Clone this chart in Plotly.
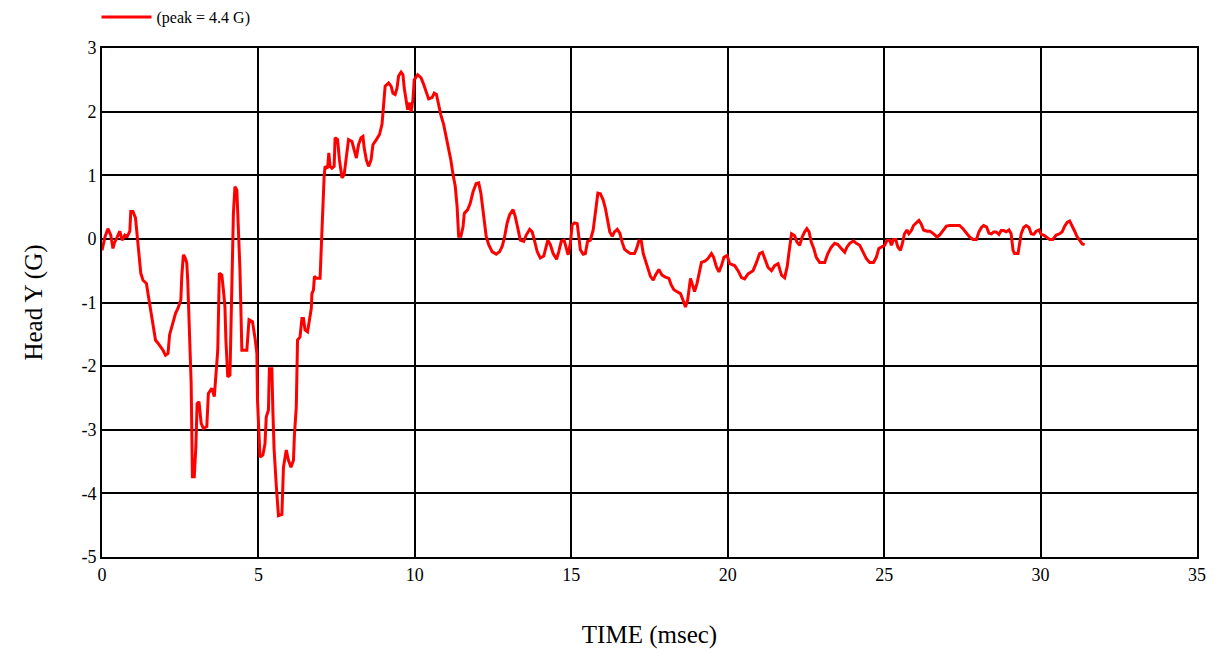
import plotly.graph_objects as go

# Time (msec) and Head Y acceleration (G)
time_ms = [
    0.00, 0.10, 0.19, 0.28, 0.35, 0.40, 0.46, 0.57, 0.64, 0.73, 0.81, 0.89, 0.92, 0.99, 1.07, 1.13, 1.17,
    1.24, 1.31, 1.42, 1.47, 1.53, 1.63, 1.71, 1.79, 1.95, 2.03, 2.11, 2.16, 2.27, 2.35, 2.43, 2.52,
    2.55, 2.60, 2.66, 2.71, 2.74, 2.78, 2.85, 2.89, 2.95, 3.00, 3.04, 3.10, 3.17, 3.24, 3.35, 3.40,
    3.51, 3.59, 3.64, 3.70, 3.75, 3.83, 3.88, 3.93, 3.96, 4.02, 4.09, 4.15, 4.20, 4.25, 4.31, 4.36,
    4.41, 4.47, 4.63, 4.70, 4.81, 4.90, 4.95,
    4.97, 5.05, 5.14, 5.21, 5.25, 5.32, 5.35, 5.43, 5.46, 5.50, 5.57, 5.64, 5.75, 5.80, 5.89, 5.96,
    6.04, 6.12, 6.15, 6.21, 6.25, 6.33, 6.39, 6.44, 6.49, 6.57, 6.63, 6.69, 6.71, 6.76, 6.79, 6.85,
    6.97, 7.01, 7.03, 7.10, 7.13, 7.21, 7.25, 7.29, 7.35, 7.42,
    7.45, 7.53, 7.59, 7.67, 7.74, 7.81, 7.88, 7.99, 8.06, 8.13, 8.20, 8.28, 8.34, 8.38, 8.45, 8.52,
    8.60, 8.66, 8.77, 8.87, 8.95, 9.00, 9.05, 9.16, 9.24, 9.30, 9.37, 9.43, 9.48, 9.56, 9.62, 9.66,
    9.73, 9.77, 9.83, 9.88, 9.94, 9.98, 10.09, 10.20, 10.28, 10.39, 10.44, 10.55, 10.62, 10.69, 10.76,
    10.83, 10.92, 11.00, 11.08, 11.15, 11.22, 11.29, 11.35, 11.40, 11.47, 11.54, 11.58, 11.69,
    11.77, 11.86, 11.96, 12.04, 12.11, 12.20, 12.28, 12.36, 12.47, 12.60, 12.71, 12.79, 12.86, 12.95,
    13.03, 13.14, 13.21, 13.29, 13.37, 13.48, 13.56, 13.67, 13.75, 13.82, 13.91, 14.01, 14.12, 14.25,
    14.33, 14.42, 14.53, 14.60, 14.68, 14.77, 14.83, 14.90, 14.97, 15.03, 15.10, 15.19, 15.24, 15.29,
    15.38, 15.45, 15.52, 15.61, 15.70, 15.77, 15.85, 15.93, 16.02, 16.09, 16.17, 16.23, 16.31, 16.38,
    16.47, 16.55, 16.63, 16.70, 16.79, 16.89, 17.02, 17.09, 17.16, 17.24, 17.30, 17.37, 17.45, 17.53,
    17.62, 17.69, 17.80, 17.90, 18.01, 18.12, 18.19, 18.28, 18.38, 18.49, 18.57, 18.65, 18.72, 18.81,
    18.86, 18.94, 19.02, 19.11,
    19.16, 19.27, 19.37, 19.48, 19.55, 19.64, 19.72, 19.80, 19.88, 19.98, 20.06, 20.22, 20.33, 20.44,
    20.54, 20.65, 20.81, 20.92, 21.02, 21.11, 21.18, 21.29, 21.40, 21.50, 21.61, 21.72, 21.82, 21.90,
    21.96, 22.04, 22.14, 22.21, 22.30, 22.38, 22.46, 22.53, 22.60, 22.67, 22.75, 22.83, 22.94, 23.10,
    23.20, 23.31, 23.42, 23.52, 23.63, 23.74, 23.81, 23.90, 24.02, 24.11, 24.22, 24.32, 24.43, 24.54,
    24.66, 24.75, 24.83, 24.91, 25.02, 25.09, 25.18, 25.23, 25.30, 25.37, 25.44, 25.52, 25.58, 25.65,
    25.73, 25.79, 25.87, 25.94, 26.03, 26.11, 26.18, 26.26, 26.37, 26.47, 26.58, 26.69, 26.77, 26.88,
    26.99, 27.09, 27.25, 27.41, 27.52, 27.63, 27.73, 27.84, 27.95, 28.03, 28.11, 28.18, 28.27, 28.35,
    28.43, 28.50, 28.58, 28.67, 28.74, 28.82, 28.90, 28.99, 29.06, 29.12, 29.17, 29.28, 29.33, 29.38,
    29.46, 29.54, 29.63, 29.70, 29.78, 29.86, 29.95, 30.02, 30.10, 30.18, 30.29, 30.39, 30.50, 30.61,
    30.69, 30.77, 30.85, 30.93, 31.01, 31.09, 31.16, 31.25, 31.33, 31.41,
]

head_y_g = [
    -0.18, 0.04, 0.16, 0.06, -0.15, -0.06, 0.00, 0.12, -0.02, 0.06, 0.04, 0.12, 0.43, 0.43, 0.33, -0.02, -0.20,
    -0.54, -0.65, -0.70, -0.86, -1.04, -1.38, -1.59, -1.64, -1.75, -1.83, -1.80, -1.51, -1.33, -1.17, -1.09, -0.96,
    -0.59, -0.25, -0.30, -0.38, -0.65, -1.33, -2.27, -3.74, -3.74, -3.27, -2.59, -2.56, -2.90, -2.98, -2.95, -2.43,
    -2.35, -2.48, -2.14, -1.75, -0.54, -0.57, -0.80, -1.07, -1.59, -2.17, -2.14, -0.49, 0.40, 0.82, 0.77, 0.14,
    -0.49, -1.75, -1.75, -1.27, -1.30, -1.59, -1.80,
    -2.53, -3.43, -3.40, -3.22, -2.80, -2.69, -2.04, -2.04, -2.67, -3.30, -3.87, -4.35, -4.33, -3.59, -3.32, -3.48,
    -3.59, -3.48, -3.09, -2.64, -1.59, -1.54, -1.25, -1.25, -1.43, -1.46, -1.28, -1.09, -0.86, -0.80, -0.59, -0.62,
    -0.62, -0.12, 0.40, 0.98, 1.14, 1.11, 1.35, 1.14, 1.11, 1.14,
    1.59, 1.56, 1.24, 0.96, 1.01, 1.32, 1.56, 1.53, 1.40, 1.27, 1.48, 1.59, 1.61, 1.43, 1.24, 1.14,
    1.24, 1.48, 1.56, 1.64, 1.80, 2.06, 2.40, 2.45, 2.40, 2.29, 2.27, 2.37, 2.56, 2.62, 2.58, 2.37,
    2.19, 2.03, 2.14, 2.00, 2.19, 2.50, 2.58, 2.53, 2.43, 2.27, 2.20, 2.22, 2.29, 2.27, 2.08,
    1.95, 1.80, 1.61, 1.40, 1.24, 1.01, 0.83, 0.51, 0.04, 0.04, 0.19, 0.40, 0.46,
    0.56, 0.74, 0.87, 0.88, 0.72, 0.40, 0.04, -0.09, -0.20, -0.24, -0.20, -0.12, 0.01, 0.25,
    0.38, 0.46, 0.35, 0.17, -0.02, -0.04, 0.06, 0.15, 0.11, -0.02, -0.20, -0.30, -0.27, -0.02,
    -0.09, -0.23, -0.32, -0.20, -0.04, -0.02, -0.12, -0.25, -0.07, 0.22, 0.25, 0.24, 0.04, -0.17,
    -0.24, -0.23, -0.04, -0.02, 0.14, 0.40, 0.72, 0.71, 0.61, 0.48, 0.30, 0.11, 0.04, 0.11,
    0.15, 0.09, -0.06, -0.16, -0.20, -0.23, -0.23, -0.15, -0.03, -0.04, -0.23, -0.33, -0.44, -0.59,
    -0.65, -0.57, -0.48, -0.57, -0.60, -0.62, -0.72, -0.80, -0.83, -0.86, -0.96, -1.07, -0.96, -0.62,
    -0.70, -0.83, -0.70, -0.49,
    -0.37, -0.35, -0.31, -0.23, -0.29, -0.44, -0.52, -0.42, -0.29, -0.26, -0.39, -0.42, -0.50, -0.61,
    -0.63, -0.55, -0.50, -0.37, -0.23, -0.21, -0.31, -0.45, -0.50, -0.42, -0.39, -0.57, -0.61, -0.44,
    -0.21, 0.08, 0.05, -0.05, -0.10, 0.03, 0.11, 0.16, 0.11, -0.05, -0.15, -0.29, -0.37, -0.37,
    -0.23, -0.13, -0.07, -0.09, -0.15, -0.21, -0.13, -0.07, -0.03, -0.07, -0.10, -0.21, -0.31, -0.37,
    -0.37, -0.29, -0.15, -0.13, -0.10, -0.02, -0.02, -0.10, -0.01, -0.01, -0.13, -0.18, -0.08, 0.08,
    0.14, 0.08, 0.13, 0.21, 0.26, 0.29, 0.24, 0.14, 0.12, 0.12, 0.08, 0.03, 0.06, 0.14,
    0.20, 0.21, 0.21, 0.21, 0.16, 0.09, 0.03, -0.01, -0.01, 0.11, 0.18, 0.21, 0.19, 0.09,
    0.08, 0.11, 0.11, 0.07, 0.13, 0.13, 0.11, 0.14, 0.08, -0.18, -0.23, -0.23, -0.10, 0.08,
    0.18, 0.21, 0.18, 0.08, 0.07, 0.12, 0.14, 0.07, 0.06, 0.03, -0.01, -0.01, 0.06, 0.08,
    0.11, 0.20, 0.26, 0.28, 0.21, 0.12, 0.04, -0.02, -0.08, -0.09,
]

series_name = "(peak = 4.4 G)"
x_ticks = [0, 5, 10, 15, 20, 25, 30, 35]
x_tick_labels = ["0", "5", "10", "15", "20", "25", "30", "35"]
y_ticks = [-5, -4, -3, -2, -1, 0, 1, 2, 3]
y_tick_labels = ["-5", "-4", "-3", "-2", "-1", "0", "1", "2", "3"]

FONT = "Liberation Serif"

fig = go.Figure()
fig.add_trace(go.Scatter(
    x=time_ms, y=head_y_g, mode="lines", name=series_name,
    line=dict(color="#ff0000", width=3),
))

fig.update_layout(
    width=1221, height=658,
    margin=dict(l=102, r=24, t=48, b=101, autoexpand=False),
    paper_bgcolor="white", plot_bgcolor="white",
    font=dict(family=FONT, color="black", size=18),
    showlegend=True,
    legend=dict(
        x=-0.005, y=1.094, xanchor="left", yanchor="top",
        xref="paper", yref="paper",
        font=dict(family=FONT, size=16, color="black"),
        bgcolor="rgba(0,0,0,0)", borderwidth=0,
        itemwidth=50, tracegroupgap=0,
    ),
    xaxis=dict(
        range=[0, 35], tickvals=x_ticks, ticktext=x_tick_labels, ticks="",
        showgrid=True, gridcolor="black", gridwidth=1.5,
        showline=True, linecolor="black", linewidth=2, mirror=True,
        zeroline=False,
        tickfont=dict(family=FONT, size=18),
        title=dict(text="TIME (msec)", font=dict(family=FONT, size=25), standoff=42),
    ),
    yaxis=dict(
        range=[-5, 3], tickvals=y_ticks, ticktext=y_tick_labels, ticks="",
        showgrid=True, gridcolor="black", gridwidth=1.5,
        showline=True, linecolor="black", linewidth=2, mirror=True,
        zeroline=False,
        tickfont=dict(family=FONT, size=18),
        title=dict(text="Head Y (G)", font=dict(family=FONT, size=25), standoff=32),
    ),
)

fig.write_html(
    "out.html",
    config={"displayModeBar": False},
    post_script="document.body.style.margin='0';",
)
